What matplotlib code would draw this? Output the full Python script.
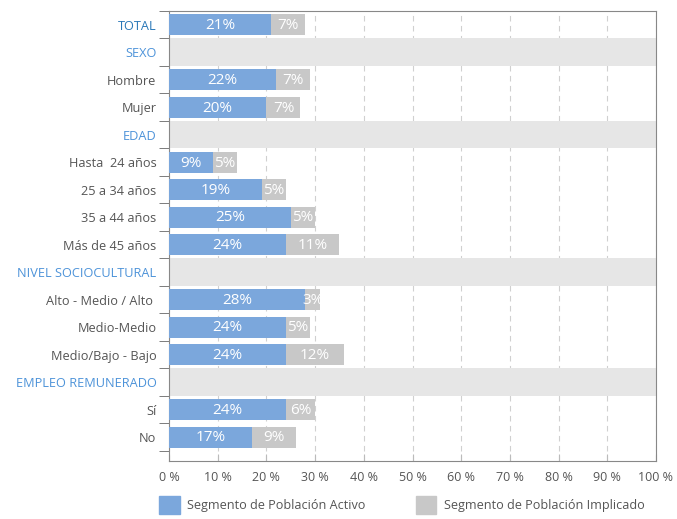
import matplotlib.pyplot as plt
from matplotlib.patches import Patch
from matplotlib.ticker import FixedLocator

plt.rcParams["font.family"] = ["Open Sans", "DejaVu Sans"]

# filas del gráfico, de arriba abajo (las de sections son cabeceras)
labels = [
    "TOTAL", "SEXO", "Hombre", "Mujer", "EDAD",
    "Hasta  24 años", "25 a 34 años", "35 a 44 años", "Más de 45 años",
    "NIVEL SOCIOCULTURAL", "Alto - Medio / Alto ", "Medio-Medio", "Medio/Bajo - Bajo",
    "EMPLEO REMUNERADO", "Sí", "No",
]
sections = ["SEXO", "EDAD", "NIVEL SOCIOCULTURAL", "EMPLEO REMUNERADO"]
activo = [21, None, 22, 20, None, 9, 19, 25, 24, None, 28, 24, 24, None, 24, 17]
implicado = [7, None, 7, 7, None, 5, 5, 5, 11, None, 3, 5, 12, None, 6, 9]
xticks = list(range(0, 101, 10))

BLUE = "#7ba7dc"
GREY = "#c8c8c8"
BAND = "#e6e6e6"
TXT = "#555555"
NARROW = ["Liberation Sans Narrow", "Open Sans", "DejaVu Sans"]

fig = plt.figure(figsize=(6.77, 5.19), dpi=100)
ax = fig.add_axes([169 / 677, 1 - 461 / 519, 487 / 677, 450 / 519])

for i, lab in enumerate(labels):
    if lab in sections:
        ax.barh(i, 100, height=1.0, left=0, color=BAND, zorder=2)
        continue
    a, b = activo[i], implicado[i]
    ax.barh(i, a, height=0.76, color=BLUE, zorder=3)
    ax.barh(i, b, height=0.76, left=a, color=GREY, zorder=3)
    ax.text(a / 2, i + 0.03, f"{a}%", ha="center", va="center", color="white",
            fontsize=11, family=NARROW, zorder=4)
    ax.text(a + b / 2, i + 0.03, f"{b}%", ha="center", va="center", color="white",
            fontsize=11, family=NARROW, zorder=4)

ax.set_xlim(0, 100)
ax.set_ylim(len(labels) - 0.13, -0.5)

ax.set_xticks(xticks)
ax.set_xticklabels([f"{t} %" for t in xticks], fontsize=9, color=TXT)
ax.tick_params(axis="x", direction="in", length=5, color="#bbbbbb", pad=7)

ax.set_yticks(range(len(labels)))
ax.set_yticklabels(labels, fontsize=9.2)
ax.tick_params(axis="y", which="major", length=0, pad=9)
ax.yaxis.set_minor_locator(FixedLocator([i - 0.5 for i in range(len(labels) + 1)]))
ax.tick_params(axis="y", which="minor", length=7, color="#666666", direction="out")

for t, lab in zip(ax.get_yticklabels(), labels):
    if lab == "TOTAL":
        t.set_color("#2a78b8")
    elif lab in sections:
        t.set_color("#4d93d9")
    else:
        t.set_color(TXT)

ax.xaxis.grid(True, linestyle=(0, (5, 4)), color="#d0d0d0", linewidth=0.8, zorder=1)
ax.set_axisbelow(True)
for s in ax.spines.values():
    s.set_color("#888888")
    s.set_linewidth(0.8)

handles = [Patch(color=BLUE, label="Segmento de Población Activo"),
           Patch(color=GREY, label="Segmento de Población Implicado")]
fig.legend(handles=handles, loc="lower left", bbox_to_anchor=(148 / 677, -0.012),
           ncol=2, frameon=False, fontsize=9.1, handlelength=1.6, handleheight=1.8,
           columnspacing=4.0, handletextpad=0.6, labelcolor=TXT)

fig.savefig("out.png", dpi=100)
